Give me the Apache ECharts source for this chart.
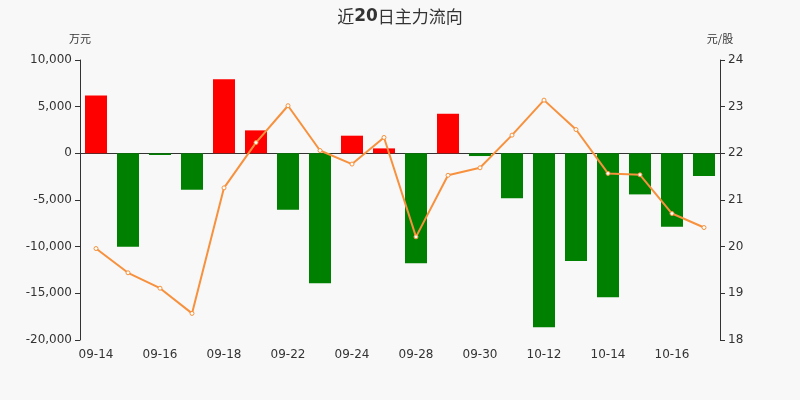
<!DOCTYPE html>
<html lang="zh">
<head>
    <meta charset="UTF-8">
    <title>近20日主力流向</title>
    <script src="https://cdn.jsdelivr.net/npm/echarts@6/dist/echarts.min.js"></script>
    <style>
        html, body { margin: 0; padding: 0; background: #f8f8f8; }
        #chartmain { width: 800px; height: 400px; }
    </style>
</head>
<body>
<div id="chartmain"></div>
<script>
    // 日期
    var days = ['09-14', '09-15', '09-16', '09-17', '09-18', '09-21', '09-22', '09-23', '09-24', '09-25',
        '09-28', '09-29', '09-30', '10-09', '10-12', '10-13', '10-14', '10-15', '10-16', '10-19'];
    // 主力净流入（万元）
    var flowVals = [6200, -10000, -180, -3900, 7930, 2460, -6040, -13930, 1890, 530,
        -11790, 4240, -290, -4820, -18640, -11540, -15430, -4400, -7860, -2430];
    // 股价（元/股）
    var priceVals = [19.96, 19.44, 19.11, 18.57, 21.26, 22.23, 23.02, 22.06, 21.77, 22.34,
        20.21, 21.53, 21.69, 22.39, 23.14, 22.51, 21.57, 21.54, 20.71, 20.41];

    var axisTxt = {color: '#333', fontSize: 12, fontFamily: 'DejaVu Sans'};

    var option = {
        backgroundColor: '#f8f8f8',
        animation: false,
        title: {
            text: '{c|近}{n|20}{c|日主力流向}',
            left: 'center',
            top: 3,
            textStyle: {
                color: '#333', fontSize: 17,
                rich: {
                    c: {color: '#333', fontSize: 17, fontWeight: 'normal', fontFamily: 'Noto Sans CJK SC'},
                    n: {color: '#333', fontSize: 17, fontWeight: 'bold', fontFamily: 'DejaVu Sans'}
                }
            }
        },
        grid: {left: 80, right: 80, top: 60, bottom: 60},
        xAxis: [{
            type: 'category',
            data: days,
            axisLine: {onZero: true, lineStyle: {color: '#333'}},
            axisTick: {interval: 1, alignWithLabel: false},
            axisLabel: {show: false, interval: 1}
        }, {
            type: 'category',
            data: days,
            position: 'bottom',
            axisLine: {show: false},
            axisTick: {show: false},
            axisLabel: Object.assign({interval: 1, margin: 9}, axisTxt)
        }],
        yAxis: [{
            type: 'value',
            name: '万元',
            nameGap: 16,
            nameTextStyle: {color: '#333', fontSize: 11, align: 'center', fontFamily: 'Noto Sans CJK SC'},
            min: -20000,
            max: 10000,
            interval: 5000,
            splitLine: {show: false},
            axisLine: {show: true, lineStyle: {color: '#333'}},
            axisTick: {show: true},
            axisLabel: Object.assign({
                formatter: function (v) {
                    var s = Math.abs(v).toString().replace(/\B(?=(\d{3})+(?!\d))/g, ',');
                    return (v < 0 ? '-' : '') + s;
                }
            }, axisTxt)
        }, {
            type: 'value',
            name: '元/股',
            nameGap: 16,
            nameTextStyle: {color: '#333', fontSize: 11, align: 'center', fontFamily: 'Noto Sans CJK SC'},
            min: 18,
            max: 24,
            interval: 1,
            splitLine: {show: false},
            axisLine: {show: true, lineStyle: {color: '#333'}},
            axisTick: {show: true},
            axisLabel: axisTxt
        }],
        series: [{
            name: '主力流向',
            type: 'bar',
            xAxisIndex: 0,
            yAxisIndex: 0,
            barWidth: 22,
            data: flowVals.map(function (v) {
                return {value: v, itemStyle: {color: v >= 0 ? '#ff0000' : '#008000'}};
            })
        }, {
            name: '股价',
            type: 'line',
            xAxisIndex: 0,
            yAxisIndex: 1,
            data: priceVals,
            symbol: 'circle',
            symbolSize: 4,
            itemStyle: {color: '#fff', borderColor: '#f7913d', borderWidth: 1},
            lineStyle: {color: '#f7913d', width: 2}
        }]
    };

    var myChart = echarts.init(document.getElementById('chartmain'));
    myChart.setOption(option);
</script>
</body>
</html>
